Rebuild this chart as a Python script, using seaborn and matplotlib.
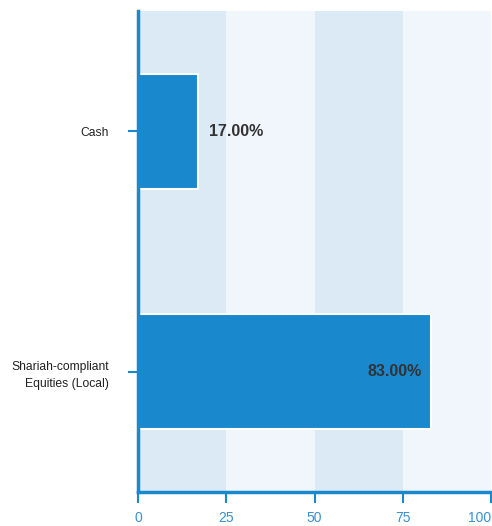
import seaborn as sns
import matplotlib.pyplot as plt

# data
categories = ["Cash", "Shariah-compliant\nEquities (Local)"]
values = [17.00, 83.00]
xticks = [0, 25, 50, 75, 100]

bar_color = "#1a88cc"
tick_color = "#3b8fd0"

sns.set_style("white")
plt.rcParams["font.family"] = ["Liberation Sans", "DejaVu Sans"]

fig = plt.figure(figsize=(4.92, 5.26), dpi=100)
ax = fig.add_axes([138 / 492, 34 / 526, 353 / 492, 481 / 526])

# alternating background bands
for i in range(len(xticks) - 1):
    ax.axvspan(xticks[i], xticks[i + 1], color="#dbeaf5" if i % 2 == 0 else "#f0f6fb",
               lw=0, zorder=0)

sns.barplot(x=values, y=categories, orient="h", color=bar_color, saturation=1,
            width=0.48, edgecolor="white", linewidth=1.5, ax=ax, zorder=2)

# value labels
for i, v in enumerate(values):
    if v > 50:
        ax.annotate(f"{v:.2f}%", (v, i), xytext=(-7, 0), textcoords="offset points",
                    ha="right", va="center", fontsize=11.5, fontweight="bold", color="#333333", zorder=3)
    else:
        ax.annotate(f"{v:.2f}%", (v, i), xytext=(8, 0), textcoords="offset points",
                    ha="left", va="center", fontsize=11.5, fontweight="bold", color="#333333", zorder=3)

ax.set_xlim(0, 100)
ax.set_ylim(1.5, -0.5)
ax.set_xticks(xticks)
ax.set_xticklabels([str(t) for t in xticks])
ax.get_xticklabels()[-1].set_ha("right")
ax.set_xlabel("")
ax.set_ylabel("")

for s in ["top", "right"]:
    ax.spines[s].set_visible(False)
for s in ["left", "bottom"]:
    ax.spines[s].set_color(bar_color)
    ax.spines[s].set_linewidth(2.5)
    ax.spines[s].set_zorder(4)

ax.tick_params(axis="x", colors=bar_color, labelcolor=tick_color, length=8, width=1.5,
               labelsize=10, pad=6, bottom=True)
ax.tick_params(axis="y", colors=bar_color, labelcolor="#222222", length=7, width=1.5,
               labelsize=8.7, pad=14, left=True)
for lbl in ax.get_yticklabels():
    lbl.set_multialignment("right")
    lbl.set_linespacing(1.5)

fig.savefig("out.png", dpi=100)
